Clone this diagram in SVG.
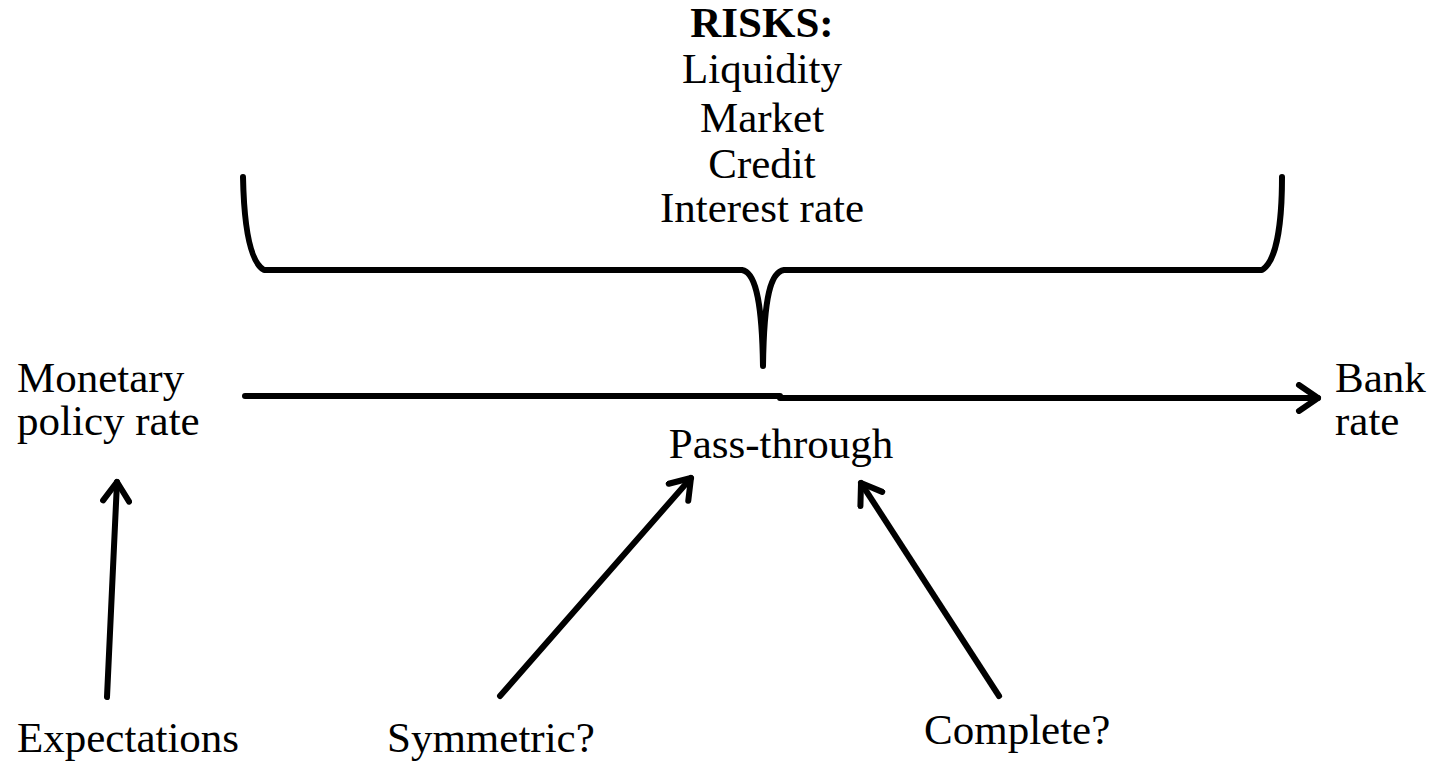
<svg xmlns="http://www.w3.org/2000/svg" width="1433" height="761" viewBox="0 0 1433 761">
<style>
text{font-family:"Liberation Serif","Times New Roman",serif;font-size:43px;fill:#000}
.c{text-anchor:middle}
.b{font-weight:bold}
.ln{fill:none;stroke:#000;stroke-width:6;stroke-linecap:round;stroke-linejoin:round}
</style>
<defs>
<marker id="ah" viewBox="0 0 32 32" refX="27" refY="16" markerWidth="32" markerHeight="32" markerUnits="userSpaceOnUse" orient="auto">
<path d="M8,3 L27,16 L8,29" fill="none" stroke="#000" stroke-width="6" stroke-linecap="round" stroke-linejoin="round"/>
</marker>
</defs>
<g id="risks">
<text class="c b" x="762" y="37">RISKS:</text>
<text class="c" x="762" y="83">Liquidity</text>
<text class="c" x="762" y="132">Market</text>
<text class="c" x="762" y="178">Credit</text>
<text class="c" x="762" y="222">Interest rate</text>
</g>
<g id="brace">
<path class="ln" d="M243,177 C244,225 250,262 264,270 L742,270 C754,272 762,295 763,366 C764,295 771,272 784,270 L1262,270 C1276,262 1282,225 1282,177"/>
</g>
<g id="monetary">
<text x="17" y="392">Monetary</text>
<text x="17" y="435">policy rate</text>
</g>
<g id="bank">
<text x="1335" y="392">Bank</text>
<text x="1335" y="435">rate</text>
</g>
<g id="passthrough">
<text class="c" x="781" y="458">Pass-through</text>
</g>
<g id="expectations"><text x="17" y="752">Expectations</text></g>
<g id="symmetric"><text x="387" y="752">Symmetric?</text></g>
<g id="complete"><text x="924" y="744">Complete?</text></g>
<g id="connectors">
<path class="ln" d="M245,396 L780,396"/>
<path class="ln" d="M780,398 L1318,398" marker-end="url(#ah)"/>
<path class="ln" d="M107,697 L117,482" marker-end="url(#ah)"/>
<path class="ln" d="M500,696 L691,478" marker-end="url(#ah)"/>
<path class="ln" d="M999,696 L861,483" marker-end="url(#ah)"/>
</g>
</svg>
